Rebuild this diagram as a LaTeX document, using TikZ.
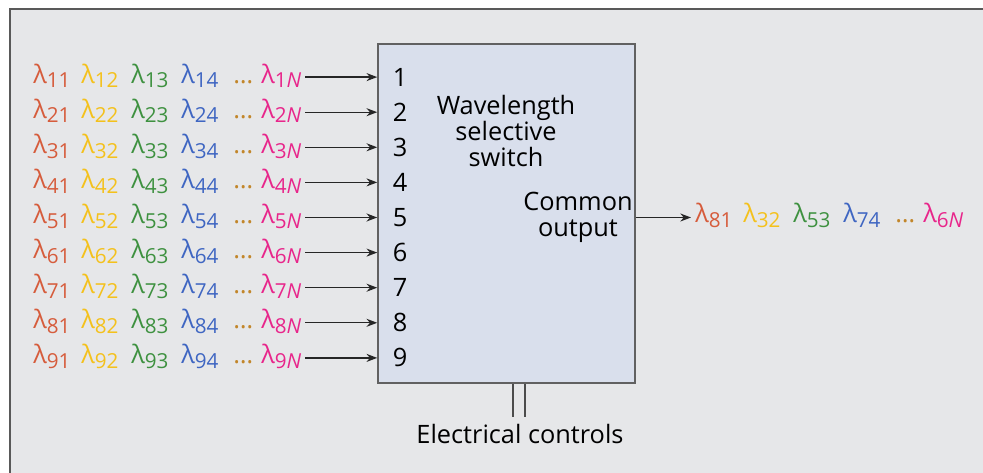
\documentclass[tikz,border=0pt]{standalone}
\usepackage{fontspec}
\setmainfont{Open Sans}
\usetikzlibrary{arrows.meta}

\definecolor{lamred}{HTML}{D65C3C}
\definecolor{lamyel}{HTML}{F4C11C}
\definecolor{lamgrn}{HTML}{3E9140}
\definecolor{lamblu}{HTML}{3F66C2}
\definecolor{lamdot}{HTML}{C2862A}
\definecolor{lampnk}{HTML}{E8268B}
\definecolor{framebg}{HTML}{E6E7E9}
\definecolor{boxbg}{HTML}{D9DFEC}

% one coloured wavelength, subscript lowered
\newcommand{\lam}[2]{\textcolor{#1}{λ\raisebox{-0.35ex}{\fontsize{15.5}{16}\selectfont #2}}}
% six entries of a row in fixed columns
\newcommand{\lamcols}[6]{\makebox[36pt][l]{#1}\makebox[37.5pt][l]{#2}\makebox[37.5pt][l]{#3}\makebox[39pt][l]{#4}\makebox[21pt][l]{#5}#6}
\newcommand{\lamrow}[1]{\lamcols{\lam{lamred}{#11}}{\lam{lamyel}{#12}}{\lam{lamgrn}{#13}}{\lam{lamblu}{#14}}{\textcolor{lamdot}{…}}{\lam{lampnk}{#1\textit{N}}}}

\begin{document}
\begin{tikzpicture}[
    x=0.75pt, y=-0.75pt,
    >={Stealth[length=8pt, width=6pt]},
    wssbox/.style={rectangle, draw=black!62, line width=1.2pt, fill=boxbg,
                   minimum width=192.75pt, minimum height=254.25pt, inner sep=0pt},
    label/.style={font=\fontsize{19}{19.5}\selectfont, align=center, inner sep=0pt},
    lamtext/.style={font=\fontsize{19}{20}\selectfont, inner sep=0pt},
    port/.style={font=\fontsize{19}{20}\selectfont, inner sep=0pt},
    sig/.style={->, line width=1pt, black!85},
    wire/.style={line width=1pt, black!70}
]
  \useasboundingbox (0,0) rectangle (983,473);
  \clip (0,0) rectangle (983,473);

  % --- frame ---
  \draw[draw=black!65, line width=1.5pt, fill=framebg] (10,9) rectangle (995,490);

  % --- switch ---
  \node[wssbox] (wss) at (506.5,213.5) {};
  \node[label] (title) at (506,131) {Wavelength\\selective\\switch};
  \node[label] (common) at (578,217.5) {Common\\output};

  % --- input ports ---
  \foreach \r in {1,...,9} {
    \node[port] (num\r) at (400,{42+35.1*\r}) {\r};
    \node[lamtext, anchor=base west] (lam\r) at (33,{48+35.1*\r}) {\lamrow{\r}};
    \draw[sig] ([xshift=3pt]lam\r.east |- num\r) -- (wss.west |- num\r);
  }

  % --- output ---
  \node[lamtext, anchor=base west] (outlam) at (695,223)
    {\lamcols{\lam{lamred}{81}}{\lam{lamyel}{32}}{\lam{lamgrn}{53}}{\lam{lamblu}{74}}{\textcolor{lamdot}{…}}{\lam{lampnk}{6\textit{N}}}};
  \draw[sig] (wss.east |- common) -- ([xshift=-3pt]outlam.west |- common);

  % --- controls ---
  \node[label] (ctrl) at (520,434) {Electrical controls};
  \draw[wire] ([xshift=4.9pt]wss.south) -- ([xshift=4.9pt, yshift=5pt]wss.south |- ctrl.north);
  \draw[wire] ([xshift=13.9pt]wss.south) -- ([xshift=13.9pt, yshift=5pt]wss.south |- ctrl.north);
\end{tikzpicture}
\end{document}
